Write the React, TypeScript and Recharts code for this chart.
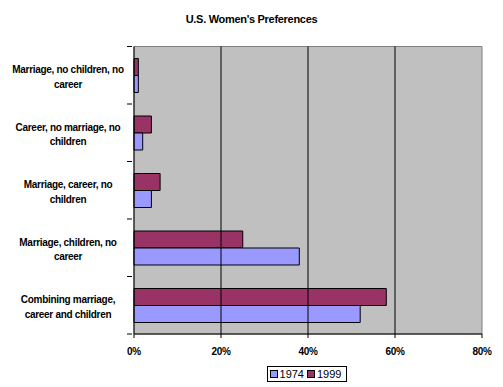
import {
  BarChart,
  Bar,
  XAxis,
  YAxis,
  ReferenceLine,
  ReferenceArea,
} from "recharts";

// Categorías de arriba hacia abajo, tal como aparecen en el gráfico
const CATEGORIAS = [
  "Marriage, no children, no career",
  "Career, no marriage, no children",
  "Marriage, career, no children",
  "Marriage, children, no career",
  "Combining marriage, career and children",
];

// Etiquetas del eje Y partidas en dos líneas (como en el original)
const ETIQUETAS: [string, string][] = [
  ["Marriage, no children, no", "career"],
  ["Career, no marriage, no", "children"],
  ["Marriage, career, no", "children"],
  ["Marriage, children, no", "career"],
  ["Combining marriage,", "career and children"],
];

const VALORES_1974 = [1, 2, 4, 38, 52];
const VALORES_1999 = [1, 4, 6, 25, 58];

const TICKS_X = [0, 20, 40, 60, 80];
const GRID_X = [20, 40, 60];

const AZUL = "#9999FF";
const GRANATE = "#993366";
const FUENTE = "Arial, 'Liberation Sans', sans-serif";
const BANDA = 57.5;

const datos = CATEGORIAS.map((c, i) => ({
  categoria: c,
  y1974: VALORES_1974[i],
  y1999: VALORES_1999[i],
}));

function TickY(props: any) {
  const { x, y, index } = props;
  const [l1, l2] = ETIQUETAS[index] ?? ["", ""];
  return (
    <g>
      {index === 0 && (
        <line x1={x + 1} x2={x + 6} y1={y - BANDA / 2} y2={y - BANDA / 2} stroke="#000" />
      )}
      <line x1={x + 1} x2={x + 6} y1={y + BANDA / 2} y2={y + BANDA / 2} stroke="#000" />
      <text
        x={68}
        y={y - 2}
        textAnchor="middle"
        fontFamily={FUENTE}
        fontWeight="bold"
        fontSize={10}
        letterSpacing={-0.3}
        fill="#000"
      >
        <tspan x={68} dy={0}>{l1}</tspan>
        <tspan x={68} dy={14.5}>{l2}</tspan>
      </text>
    </g>
  );
}

function Leyenda() {
  const item = (color: string, label: string) => (
    <span style={{ display: "inline-flex", alignItems: "center", marginRight: 3 }}>
      <span
        style={{
          display: "inline-block",
          width: 6,
          height: 6,
          background: color,
          border: "1px solid #000",
          marginRight: 2,
        }}
      />
      {label}
    </span>
  );
  return (
    <div
      style={{
        position: "absolute",
        left: 267,
        top: 366,
        width: 78,
        height: 14,
        border: "1px solid #000",
        background: "#fff",
        fontFamily: FUENTE,
        fontSize: 11,
        lineHeight: "14px",
        display: "flex",
        alignItems: "center",
        justifyContent: "center",
        color: "#000",
      }}
    >
      {item(AZUL, "1974")}
      {item(GRANATE, "1999")}
    </div>
  );
}

export default function App() {
  return (
    <div
      style={{
        position: "fixed",
        left: 0,
        top: 0,
        width: 503,
        height: 387,
        background: "#fff",
      }}
    >
      <div
        style={{
          position: "absolute",
          left: 0,
          width: 503,
          top: 13,
          textAlign: "center",
          fontFamily: FUENTE,
          fontWeight: "bold",
          fontSize: 11,
          letterSpacing: -0.3,
          paddingLeft: 0,
        }}
      >
        <span style={{ position: "relative", left: 0 }}>U.S. Women's Preferences</span>
      </div>
      <BarChart
        width={503}
        height={387}
        data={datos}
        layout="vertical"
        margin={{ top: 46.5, right: 21, bottom: 23, left: 0 }}
        barCategoryGap={12}
        barGap={0}
      >
        <ReferenceArea
          x1={0}
          x2={80}
          fill="#C0C0C0"
          fillOpacity={1}
          stroke="#808080"
          ifOverflow="visible"
        />
        {GRID_X.map((v) => (
          <ReferenceLine key={v} x={v} stroke="#000" strokeWidth={1} />
        ))}
        <XAxis
          type="number"
          domain={[0, 80]}
          ticks={TICKS_X}
          tickFormatter={(v) => `${v}%`}
          interval={0}
          height={30}
          axisLine={{ stroke: "#000" }}
          tickLine={{ stroke: "#000" }}
          tickSize={4}
          tick={{
            fill: "#000",
            fontFamily: FUENTE,
            fontWeight: "bold",
            fontSize: 10,
            letterSpacing: -0.3,
          }}
          tickMargin={10}
        />
        <YAxis
          type="category"
          dataKey="categoria"
          width={134}
          axisLine={{ stroke: "#000" }}
          tickLine={false}
          tick={<TickY />}
          interval={0}
        />
        <Bar
          dataKey="y1999"
          name="1999"
          fill={GRANATE}
          stroke="#000"
          strokeWidth={1}
          isAnimationActive={false}
        />
        <Bar
          dataKey="y1974"
          name="1974"
          fill={AZUL}
          stroke="#000"
          strokeWidth={1}
          isAnimationActive={false}
        />
      </BarChart>
      <Leyenda />
    </div>
  );
}
